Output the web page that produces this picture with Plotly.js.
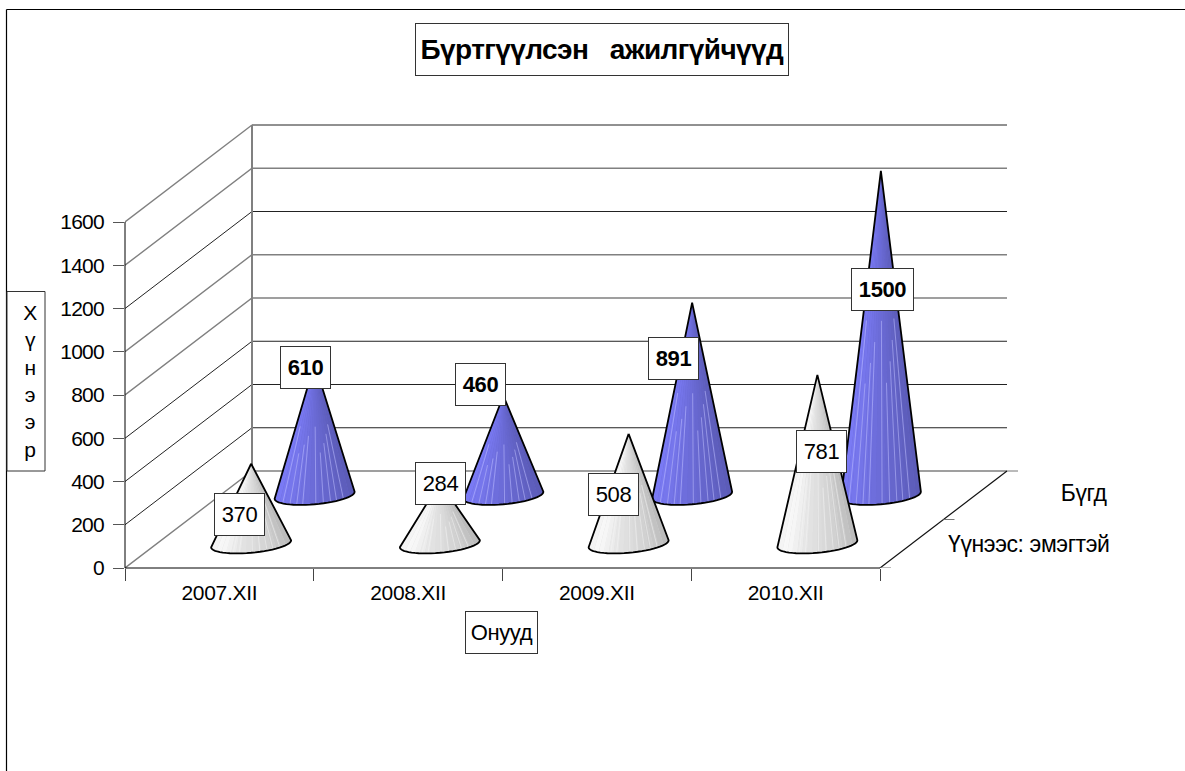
<!DOCTYPE html>
<html><head><meta charset="utf-8">
<script src="https://cdn.plot.ly/plotly-3.0.1.min.js"></script>
<style>
html,body{margin:0;padding:0;background:#fff}
#c{width:1185px;height:771px}
.xtick text{letter-spacing:-0.3px}
.ytick text{letter-spacing:-0.8px}
.annotation text{letter-spacing:-0.4px}
.annotation[data-index="0"] text{letter-spacing:-0.6px}
</style></head><body><div id="c"></div>
<script>
const categories = ["2007.XII","2008.XII","2009.XII","2010.XII"];
const seriesNames = ["Үүнээс: эмэгтэй","Бүгд"];
const womenValues = [370,284,508,781];
const totalValues = [610,460,891,1500];
const yTicks = [0,200,400,600,800,1000,1200,1400,1600];
const titleText = "Бүртгүүлсэн\u00a0\u00a0\u00a0ажилгүйчүүд";
const xTitleText = "Онууд";
const yTitleText = ["Х","ү","н","э","э","р"];
const womenLabelCentres = [[239,514.5],[440,483],[613,494],[821,451]];
const totalLabelCentres = [[305,367],[480,384],[673.5,358],[882,289]];
const greyShades = ["#f4f4f4","#f8f8f8","#f6f6f6","#f0f0f0","#ebebeb","#e6e6e6","#e2e2e2","#dfdfdf","#dcdcdc","#d9d9d9","#d5d5d5","#d1d1d1","#cdcdcd","#c8c8c8","#c2c2c2","#bcbcbc"];
const blueShades = ["#7a7af4","#7878f0","#7676ec","#7474e8","#7272e4","#7070e0","#6e6edc","#6c6cd8","#6a6ad4","#6868d0","#6666cc","#6464c8","#6262c4","#6060c0","#5e5ebc","#5c5cb8"];
const stripeFractions = [-0.8,-0.62,-0.45,-0.3,0.03,0.22,0.4,0.55,0.72];
const greyLevels = [0,1400,1000,800];
const blackLevels = [200,400,600,1200];

// plot geometry in pixels
const W=1185,H=771,L=125,R=880,T=222,B=568,areaR=1030,areaT=110;
const xPx=(R-L)/4, yPx=(B-T)/1600;
const depthX=127/xPx, depthY=97/yPx;           // oblique projection of the depth axis
const A=40/xPx, Bb=9/yPx, tilt=3.5/yPx;        // cone base ellipse
const px=v=>v/W, py=v=>1-v/H;

function proj(cat,val,d){return [cat+d*depthX, val+d*depthY];}
function line(pts,color,width){
  const x=[],y=[];
  pts.forEach(p=>{x.push(p?p[0]:null);y.push(p?p[1]:null);});
  return {type:"scatter",mode:"lines",x,y,line:{color,width,simplify:false},hoverinfo:"skip",showlegend:false};
}
const traces=[];
// walls
function wallLevel(level){return [proj(0,level,0),proj(0,level,1),proj(4,level,1),null];}
traces.push(line(blackLevels.flatMap(wallLevel),"#222",1));
traces.push(line(greyLevels.flatMap(wallLevel),"#808080",1.4));
traces.push(line([proj(0,1600,0),proj(0,1600,1)],"#808080",1.4));
traces.push(line([proj(0,1600,1),proj(4,1600,1)],"#222",1));
traces.push(line([proj(0,0,1),proj(0,1600,1)],"#808080",2));
traces.push(line([proj(4,0,0),proj(4,0,1)],"#111",1.2));
[0,0.5,1].forEach(d=>{
  const p=proj(4,0,d);
  traces.push(line([p,[p[0]+11/xPx,p[1]]],"#777",1));
});

function cone(cat,val,d,shades,stripeColor,name){
  const c=proj(cat,0,d);
  const tip=[c[0],c[1]+val];
  const arc=t=>[c[0]+A*Math.cos(t), c[1]-Bb*Math.sin(t)+tilt*Math.cos(t)];
  const sil=[tip];
  const n=28;
  for(let i=0;i<=n;i++) sil.push(arc(Math.PI*i/n));
  sil.push(tip);
  const fillT=(pts,color)=>{
    const t=line(pts,color,0);
    t.fill="toself";t.fillcolor=color;t.line={width:0,color};return t;
  };
  traces.push(fillT(sil,shades[8]));
  const m=shades.length;
  shades.forEach((col,i)=>{
    const u0=-1+2*i/m,u1=-1+2*(i+1)/m;
    const t0=Math.acos(u0),t1=Math.acos(u1);
    const pts=[tip];
    for(let k=0;k<=4;k++) pts.push(arc(t0+(t1-t0)*k/4));
    pts.push(tip);
    traces.push(fillT(pts,col));
  });
  const st=[];
  stripeFractions.forEach((u,i)=>{
    const b=arc(Math.acos(u));
    const f=0.45+0.25*((i*3)%4)/4;
    st.push([tip[0]+(b[0]-tip[0])*f, tip[1]+(b[1]-tip[1])*f], b, null);
  });
  traces.push(line(st,stripeColor,1));
  const o=line(sil,"#000",1.8);o.name=name;
  o.hoverinfo="text";o.text=sil.map(()=>name+": "+val);
  traces.push(o);
}
totalValues.forEach((v,i)=>cone(i+0.5,v,0.75,blueShades,"rgba(190,190,255,0.55)",seriesNames[1]));
womenValues.forEach((v,i)=>cone(i+0.5,v,0.25,greyShades,"rgba(245,245,245,0.5)",seriesNames[0]));

const font="Liberation Sans, Arial, sans-serif";
function box(text,c,w,h,size,bold){
  return {xref:"paper",yref:"paper",x:px(c[0]),y:py(c[1]),xanchor:"center",yanchor:"middle",
    text:bold?"<b>"+text+"</b>":text,showarrow:false,bgcolor:"#fff",bordercolor:"#333",borderwidth:1,borderpad:0,
    width:w,height:h,font:{family:font,size,color:"#000"},align:"center",valign:"middle"};
}
function plain(text,x,y,size){
  return {xref:"paper",yref:"paper",x:px(x),y:py(y),xanchor:"center",yanchor:"middle",text,showarrow:false,
    font:{family:font,size,color:"#000"}};
}
const ann=[];
ann.push(box(titleText,[601.5,50],372,51,28,true));
ann.push(box(xTitleText,[501,632],71,41,22,false));
ann.push(plain(yTitleText.join("<br>"),30,381,21));
womenValues.forEach((v,i)=>ann.push(box(String(v),womenLabelCentres[i],49,41,22,false)));
totalValues.forEach((v,i)=>ann.push(box(String(v),totalLabelCentres[i],i===3?61:49,41,22,true)));
ann.push(plain(seriesNames[1],1084,493,23));
ann.push(plain(seriesNames[0],1029,544,23));

const paperLine=(x0,y0,x1,y1,color,width)=>({type:"line",xref:"paper",yref:"paper",x0:px(x0),x1:px(x1),y0:py(y0),y1:py(y1),line:{color,width}});
const layout={
  width:W,height:H,margin:{l:0,r:0,t:0,b:0},paper_bgcolor:"#fff",plot_bgcolor:"rgba(0,0,0,0)",
  showlegend:false,hovermode:"closest",dragmode:false,
  xaxis:{domain:[px(L),px(areaR)],range:[0,(areaR-L)/xPx],fixedrange:true,showgrid:false,zeroline:false,
    tickmode:"array",tickvals:categories.map((_,i)=>i+0.5),ticktext:categories,
    ticks:"outside",ticklen:6,tickcolor:"rgba(0,0,0,0)",
    minor:{tickmode:"array",tickvals:[0,1,2,3,4],ticks:"outside",ticklen:12,tickcolor:"#444",tickwidth:1,showgrid:false},
    showline:false,tickfont:{family:font,size:21,color:"#000"}},
  yaxis:{domain:[py(B),py(areaT)],range:[0,(B-areaT)/yPx],fixedrange:true,showgrid:false,zeroline:false,
    tickmode:"array",tickvals:yTicks,ticks:"outside",ticklen:11,tickcolor:"#555",tickwidth:1,ticklabelstandoff:5,
    showline:false,tickfont:{family:font,size:21,color:"#000"}},
  annotations:ann,
  shapes:[
    paperLine(L,T,L,B,"#000",1),
    paperLine(L,B,R,B,"#000",1),
    paperLine(6.5,H,6.5,9.5,"#000",1.2),
    paperLine(6.5,9.5,W,9.5,"#000",1.2),
    {type:"rect",xref:"paper",yref:"paper",x0:px(7),x1:px(45),y0:py(291.5),y1:py(471),fillcolor:"#fff",line:{color:"#333",width:1}}
  ]
};
Plotly.newPlot("c",traces,layout,{displayModeBar:false,responsive:false});
</script></body></html>
